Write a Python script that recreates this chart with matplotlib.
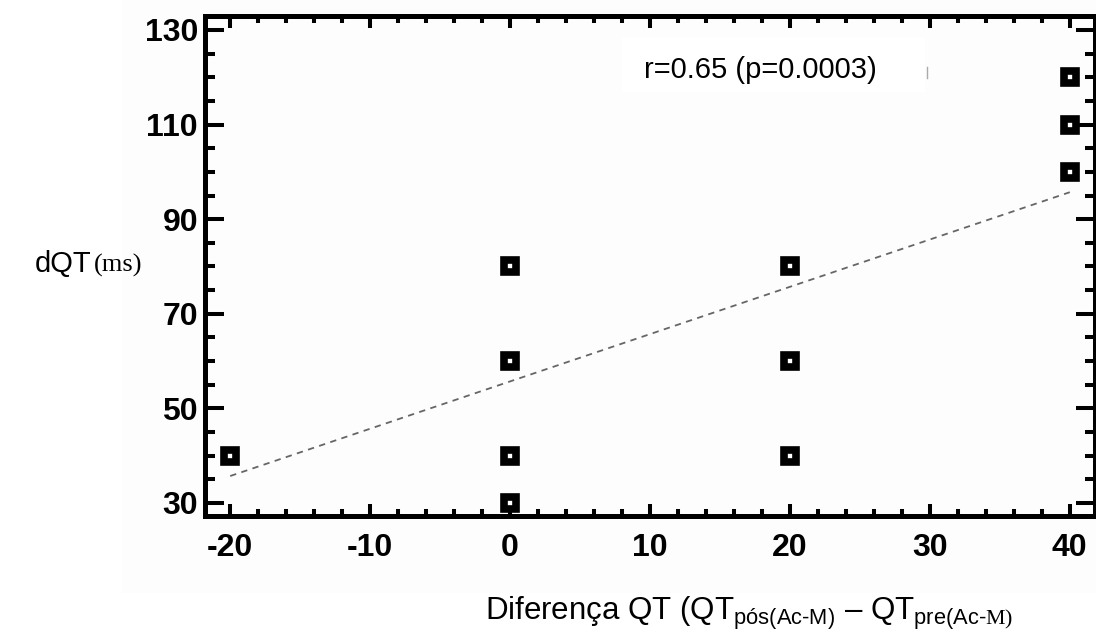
import matplotlib
matplotlib.use("Agg")
import matplotlib.pyplot as plt
from matplotlib.patches import Rectangle
from matplotlib.lines import Line2D
from matplotlib.ticker import MultipleLocator

# dados: diferença QT vs dQT
diff_qt = [-20, 0, 0, 0, 0, 20, 20, 20, 40, 40, 40]
dqt = [40, 80, 60, 40, 30, 80, 60, 40, 120, 110, 100]

# reta de regressão (extremos)
reta_x = [-20, 40]
reta_y = [35.7, 95.7]

x_ticks = [-20, -10, 0, 10, 20, 30, 40]
y_ticks = [30, 50, 70, 90, 110, 130]
texto_r = "r=0.65 (p=0.0003)"

plt.rcParams['font.family'] = ['Liberation Sans', 'DejaVu Sans']
plt.rcParams['axes.unicode_minus'] = False
plt.rcParams['mathtext.fontset'] = 'custom'
plt.rcParams['mathtext.rm'] = 'Liberation Sans'
plt.rcParams['mathtext.it'] = 'Liberation Sans'
plt.rcParams['mathtext.tt'] = 'Liberation Serif'

W, H = 1096, 638
fig = plt.figure(figsize=(W / 100, H / 100), dpi=100)
fig.patch.set_facecolor('white')

# fundo levemente cinza da área do gráfico
fig.add_artist(Rectangle((122 / W, 1 - 593 / H), 1 - 122 / W, 593 / H,
                         transform=fig.transFigure, facecolor='#fdfdfd',
                         edgecolor='none', zorder=0))

ax = fig.add_axes([205 / W, 1 - 516 / H, 890 / W, 500 / H])
ax.set_facecolor('#fdfdfd')

ax.plot(reta_x, reta_y, color='#666666', lw=1.3, ls=(0, (3.5, 3)), zorder=2)
ax.plot(diff_qt, dqt, ls='none', marker='s', ms=8, mew=5.5,
        mfc='white', mec='black', zorder=3, clip_on=False)

ax.set_xlim(-21.8, 41.8)
ax.set_ylim(27.25, 132.95)
ax.set_xticks(x_ticks)
ax.set_yticks(y_ticks)
ax.xaxis.set_minor_locator(MultipleLocator(2))
ax.yaxis.set_minor_locator(MultipleLocator(5))

for s in ax.spines.values():
    s.set_linewidth(3.6)

ax.tick_params(axis='both', which='both', direction='in', top=True, right=True,
               width=2.9, color='black')
ax.tick_params(axis='x', which='major', length=8.6, pad=12)
ax.tick_params(axis='x', which='minor', length=5)
ax.tick_params(axis='y', which='major', length=13.5, pad=5)
ax.tick_params(axis='y', which='minor', length=7)
ax.tick_params(axis='y', which='both', labelright=False)

for lab in ax.get_xticklabels() + ax.get_yticklabels():
    lab.set_fontsize(23)
    lab.set_fontweight('bold')

# caixa do coeficiente de correlação
fig.add_artist(Rectangle((622 / W, 1 - 92 / H), 303 / W, 54 / H,
                         transform=fig.transFigure, facecolor='white',
                         edgecolor='none', zorder=4))
fig.add_artist(Line2D([927 / W, 927 / W], [1 - 67 / H, 1 - 78 / H],
                      transform=fig.transFigure, color='#aaaaaa', lw=1,
                      zorder=4))
fig.text(760 / W, 1 - 70 / H, texto_r, ha='center', va='center',
         fontsize=21, zorder=5)

# rótulos dos eixos
fig.text(35 / W, 1 - 272 / H, "dQT", fontsize=21, va='baseline', ha='left')
fig.text(94 / W, 1 - 272 / H, "(ms)", fontsize=19, va='baseline', ha='left',
         family='Liberation Serif')
fig.text(485 / W, 1 - 620 / H,
         r"Diferença QT (QT$_{\text{pós(Ac-M)}}$ – QT$_{\text{pre(Ac-}\mathtt{M)}}$",
         fontsize=22.5, va='baseline', ha='left')

fig.savefig("out.png", dpi=100)
